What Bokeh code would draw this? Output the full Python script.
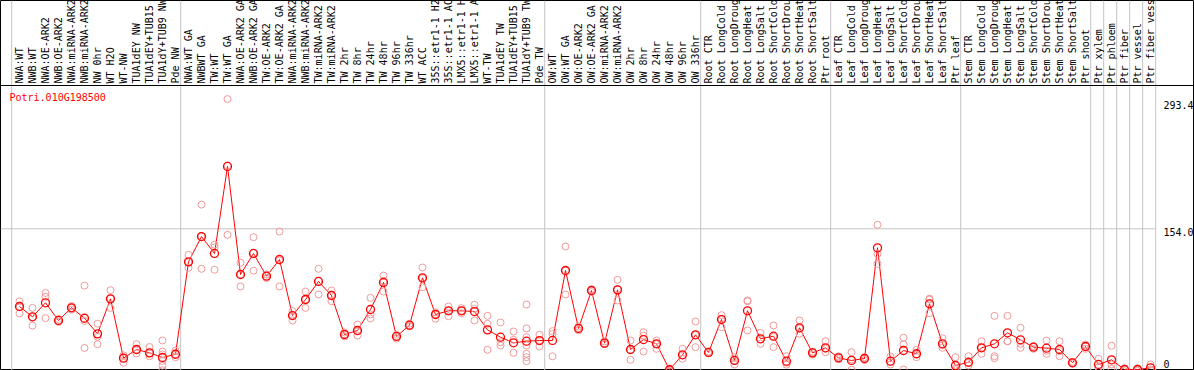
import numpy as np
from bokeh.plotting import figure
from bokeh.models import Range1d, Span
from bokeh.core.properties import value
from bokeh.embed import file_html
from bokeh.resources import INLINE

gene = "Potri.010G198500"

samples = [
    "NWA:WT", "NWB:WT", "NWA:OE-ARK2", "NWB:OE-ARK2", "NWA:miRNA-ARK2", "NWB:miRNA-ARK2",
    "NW 0hr", "WT H2O", "WT-NW", "TUA1dEY NW", "TUA1dEY+TUB15", "TUA1dY+TUB9 NW", "Pde NW",
    "NWA:WT GA", "NWBWT GA", "TW:WT", "TW:WT GA", "NWA:OE-ARK2 GA", "NWB:OE-ARK2 GA",
    "TW:OE-ARK2", "TW:OE-ARK2 GA", "NWA:miRNA-ARK2", "NWB:miRNA-ARK2", "TW:miRNA-ARK2",
    "TW:miRNA-ARK2", "TW 2hr", "TW 8hr", "TW 24hr", "TW 48hr", "TW 96hr", "TW 336hr",
    "WT ACC", "35S::etr1-1 H2", "35S::etr1-1 AC", "LMX5::etr1-1 H", "LMX5::etr1-1 A",
    "WT-TW", "TUA1dEY TW", "TUA1dEY+TUB15", "TUA1dY+TUB9 TW", "Pde TW",
    "OW:WT", "OW:WT GA", "OW:OE-ARK2", "OW:OE-ARK2 GA", "OW:miRNA-ARK2", "OW:miRNA-ARK2",
    "OW 2hr", "OW 8hr", "OW 24hr", "OW 48hr", "OW 96hr", "OW 336hr",
    "Root CTR", "Root LongCold", "Root LongDroug", "Root LongHeat", "Root LongSalt",
    "Root ShortCold", "Root ShortDrou", "Root ShortHeat", "Root ShortSalt", "Ptr root",
    "Leaf CTR", "Leaf LongCold", "Leaf LongDroug", "Leaf LongHeat", "Leaf LongSalt",
    "Leaf ShortCold", "Leaf ShortDrou", "Leaf ShortHeat", "Leaf ShortSalt", "Ptr leaf",
    "Stem CTR", "Stem LongCold", "Stem LongDroug", "Stem LongHeat", "Stem LongSalt",
    "Stem ShortCold", "Stem ShortDrou", "Stem ShortHeat", "Stem ShortSalt", "Ptr shoot",
    "Ptr xylem", "Ptr phloem", "Ptr fiber", "Ptr vessel", "Ptr fiber vess",
]

means = [
    70.5, 59.4, 74.5, 55.5, 69.1, 57.9, 41.1, 78.7, 15.0, 24.3, 20.7, 15.7, 19.2,
    118.5, 145.7, 127.5, 221.0, 104.9, 127.5, 103.1, 121.0, 60.8, 78.0, 97.4, 82.3,
    40.4, 44.7, 67.3, 96.3, 38.3, 50.4, 101.3, 61.9, 65.9, 65.9, 65.1, 45.4, 37.5,
    31.5, 33.2, 33.9,
    34.0, 109.2, 46.9, 87.7, 31.1, 88.4, 24.3, 35.0, 30.4, 2.5, 18.6, 40.1,
    21.1, 56.5, 12.5, 65.9, 35.8, 38.6, 11.7, 47.6, 20.7, 26.1,
    15.3, 12.5, 14.6, 133.6, 11.7, 23.2, 19.7, 73.4, 30.4, 7.1,
    10.6, 26.1, 30.4, 42.2, 34.7, 26.8, 25.7, 24.3, 10.0, 27.5,
    8.2, 13.2, 2.8, 2.8, 4.6,
]

replicates = [
    [76, 70, 63], [69, 59, 50], [85, 81, 58], [57, 55, 54], [71, 69, 67], [93, 55, 26],
    [52, 38, 30], [88, 79, 69], [18, 15, 10], [30, 24, 20], [27, 20, 17],
    [34, 22, 19, 12, 7, 2], [23, 19, 16],
    [126, 118, 112], [180, 146, 111], [137, 134, 110], [293.4, 222, 147.5],
    [117.5, 105, 92], [145, 128, 109], [105, 103, 101], [151, 120, 92],
    [65.5, 61, 55.5], [86.6, 78, 69], [111, 98, 83.4], [87.7, 83, 76.2],
    [42.6, 40.4, 38.3], [51.2, 44, 39.3], [79.8, 62, 57.6], [103.8, 98, 86.6],
    [40, 38, 36], [52, 50, 49], [112.4, 101, 91.2], [64.4, 62, 57.3], [70.5, 66, 60.1],
    [68.7, 66, 63.3], [72.3, 68, 55.5], [60.5, 51.9, 24], [53.3, 32.1, 28.6],
    [43.6, 34.7, 20.7], [72.6, 46.9, 37.5, 28.6, 19.7, 16, 11.7], [40.1, 34, 27.5],
    [44, 41, 17], [135, 109, 83.4], [49, 47, 45], [89, 88, 86], [33, 31, 30],
    [99.2, 89, 77], [34, 24, 13.2], [42.9, 39.3, 22.1], [34, 30, 25], [4, 2, 1],
    [25, 18, 14.3], [54.4, 40, 26.8],
    [22, 21, 20], [61.2, 57, 48.3], [16, 12.5, 8.2], [77, 76, 44.7], [42.2, 35, 30.4],
    [50.1, 38, 26.8], [17.1, 10, 8], [55.5, 47, 41.2], [22, 21, 19], [33.2, 25, 21.4],
    [17, 16, 14], [21.4, 13.6, 2.5], [16, 14.6, 13], [158.3, 127.1, 116.4],
    [16.8, 11, 8.2], [36.9, 29.7, 2.8], [24, 19, 16], [78.9, 78, 63.3],
    [36.4, 29, 26.1], [16, 3.5, 2],
    [17.1, 10, 7.1], [33.2, 26, 19.7], [60.5, 17.1, 15], [60.5, 33.2, 33],
    [47.6, 30.4, 26.1], [28, 27, 25], [34, 23, 19.7], [33.2, 22.6, 17.1],
    [11, 10, 9], [29.7, 27.5, 25],
    [14.3, 5.3, 5], [28.3, 8.2, 3.5], [4, 3, 1], [4, 2.8, 1.5], [8.2, 3, 2],
]

group_starts = [0, 13, 41, 53, 63, 73, 83, 84, 85, 86, 87, 88]
y_ticks = [293.4, 154.0, 0.0]
y_tick_labels = ["293.4", "154.0", "0"]
y_top = 308.0

idx = np.arange(len(samples))
rep_x = [i for i, r in enumerate(replicates) for _ in r]
rep_y = [v for r in replicates for v in r]

p = figure(width=1194, height=370,
           x_range=Range1d(-19 / 13, 1175 / 13), y_range=Range1d(1.72, 399.36),
           min_border=0, toolbar_location=None, output_backend="svg",
           x_axis_location=None, y_axis_location=None,
           background_fill_color="white", border_fill_color="white")
p.outline_line_color = "black"
p.outline_line_width = 1
p.grid.grid_line_color = None

gray = "#c4c4c4"
bx = [b - 0.6 for b in group_starts]
p.segment(x0=bx, y0=[p.y_range.start] * len(bx), x1=bx, y1=[p.y_range.end] * len(bx),
          line_color=gray, line_width=1)
p.segment(x0=[p.x_range.start], y0=[y_ticks[1]], x1=[bx[-1]], y1=[y_ticks[1]],
          line_color=gray, line_width=1)
p.add_layout(Span(location=y_top, dimension="width", line_color="black", line_width=1))

p.line(idx, means, line_color="#ff0000", line_width=1)
p.scatter(rep_x, rep_y, marker="circle", size=7, fill_color=None,
          line_color="#f09a9a", line_width=1)
p.scatter(idx, means, marker="circle", size=8, fill_color=None,
          line_color="#ff0000", line_width=1.3)

mono = value("DejaVu Sans Mono")
p.text(x=idx, y=[y_top + 2.2] * len(samples), text=samples, angle=np.pi / 2,
       text_align="left", text_baseline="middle", text_font=mono,
       text_font_size="10px", text_color="black")

p.text(x=[-0.77], y=[300.5], text=[gene], text_align="left", text_baseline="top",
       text_font=mono, text_font_size="10px", text_color="#ff0000")

p.text(x=[88.0], y=[y_ticks[0]], text=[y_tick_labels[0]], text_align="left",
       text_baseline="top", y_offset=2, text_font=mono, text_font_size="10px",
       text_color="black")
p.text(x=[88.0], y=[y_ticks[1]], text=[y_tick_labels[1]], text_align="left",
       text_baseline="top", y_offset=-1, text_font=mono, text_font_size="10px",
       text_color="black")
p.text(x=[88.0], y=[y_ticks[2]], text=[y_tick_labels[2]], text_align="left",
       text_baseline="bottom", y_offset=-4, text_font=mono, text_font_size="10px",
       text_color="black")

open("out.html", "w").write(file_html(p, INLINE))
